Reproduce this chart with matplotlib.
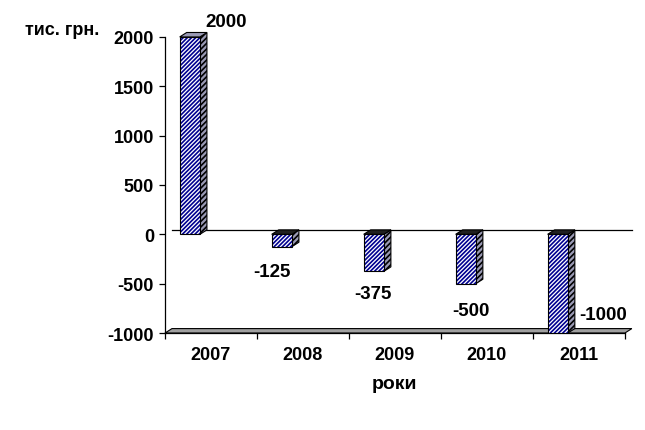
import numpy as np
import matplotlib.pyplot as plt
from matplotlib.patches import Polygon

plt.rcParams['font.family'] = ['Liberation Sans', 'DejaVu Sans']
plt.rcParams['font.weight'] = 'bold'
plt.rcParams['axes.unicode_minus'] = False
plt.rcParams['hatch.linewidth'] = 1.2

# дані
roky = ['2007', '2008', '2009', '2010', '2011']
znachennia = [2000, -125, -375, -500, -1000]

fig = plt.figure(figsize=(6.45, 4.31), dpi=100)
ax = fig.add_axes([0.2558, 0.225, 0.713, 0.687])

x = np.arange(len(roky))
shir = 0.22
zsuv = -0.23
dx, dy = 0.076, 45  # глибина 3d

ax.set_xlim(-0.5, 4.5)
ax.set_ylim(-1000, 2000)

# підлога
pidloga = Polygon([[-0.5, -1000], [4.5, -1000], [4.5 + dx, -1000 + dy], [-0.5 + dx, -1000 + dy]],
                  closed=True, facecolor='#a0a0a0', edgecolor='black', lw=0.8, clip_on=False, zorder=1)
ax.add_patch(pidloga)
# лінія нуля на задній стінці
ax.plot([-0.5 + dx, 4.5 + dx], [dy * 0.9, dy * 0.9], color='black', lw=0.9, clip_on=False, zorder=1)

for xi, v in zip(x, znachennia):
    l = xi + zsuv - shir / 2
    r = xi + zsuv + shir / 2
    top = max(v, 0)
    bot = min(v, 0)
    # бічна грань
    bik = Polygon([[r, bot], [r + dx, bot + dy], [r + dx, top + dy], [r, top]], closed=True,
                  facecolor='#9a9ab4', edgecolor='black', lw=0.8, hatch='//////', clip_on=False, zorder=2)
    ax.add_patch(bik)
    # верхня грань
    verh = Polygon([[l, top], [r, top], [r + dx, top + dy], [l + dx, top + dy]], closed=True,
                   facecolor='#9a9ab4' if v > 0 else '#202020', edgecolor='black', lw=0.8,
                   clip_on=False, zorder=2)
    ax.add_patch(verh)

ax.bar(x + zsuv, znachennia, width=shir, color='white', edgecolor='#000090', hatch='////////',
       lw=0, zorder=3)
ax.bar(x + zsuv, znachennia, width=shir, fill=False, edgecolor='black', lw=0.8, zorder=4)

# підписи значень
pozyts = [(0.16, 2160), (-0.34, -375), (-0.24, -600), (-0.17, -770), (0.26, -810)]
for (px, py), xi, v in zip(pozyts, x, znachennia):
    ax.text(xi + px, py, str(v), ha='center', va='center', fontsize=13.5, fontweight='bold', clip_on=False)

ax.spines['top'].set_visible(False)
ax.spines['right'].set_visible(False)
ax.spines['left'].set_linewidth(0.9)
ax.spines['bottom'].set_linewidth(0.9)

ax.set_yticks([-1000, -500, 0, 500, 1000, 1500, 2000])
ax.tick_params(axis='y', direction='out', length=4, width=0.9, labelsize=13, pad=4)
ax.set_xticks(x)
ax.set_xticklabels(roky)
ax.set_xticks(np.arange(-0.5, 5, 1), minor=True)
ax.tick_params(axis='x', which='major', length=0, labelsize=13, pad=9)
ax.tick_params(axis='x', which='minor', direction='out', length=4, width=0.9)
for t in ax.get_xticklabels() + ax.get_yticklabels():
    t.set_fontweight('bold')

ax.set_xlabel('роки', fontsize=14, fontweight='bold', labelpad=9)
fig.text(0.097, 0.93, 'тис. грн.', ha='center', va='center', fontsize=13, fontweight='bold')

fig.savefig('out.png', dpi=100)
